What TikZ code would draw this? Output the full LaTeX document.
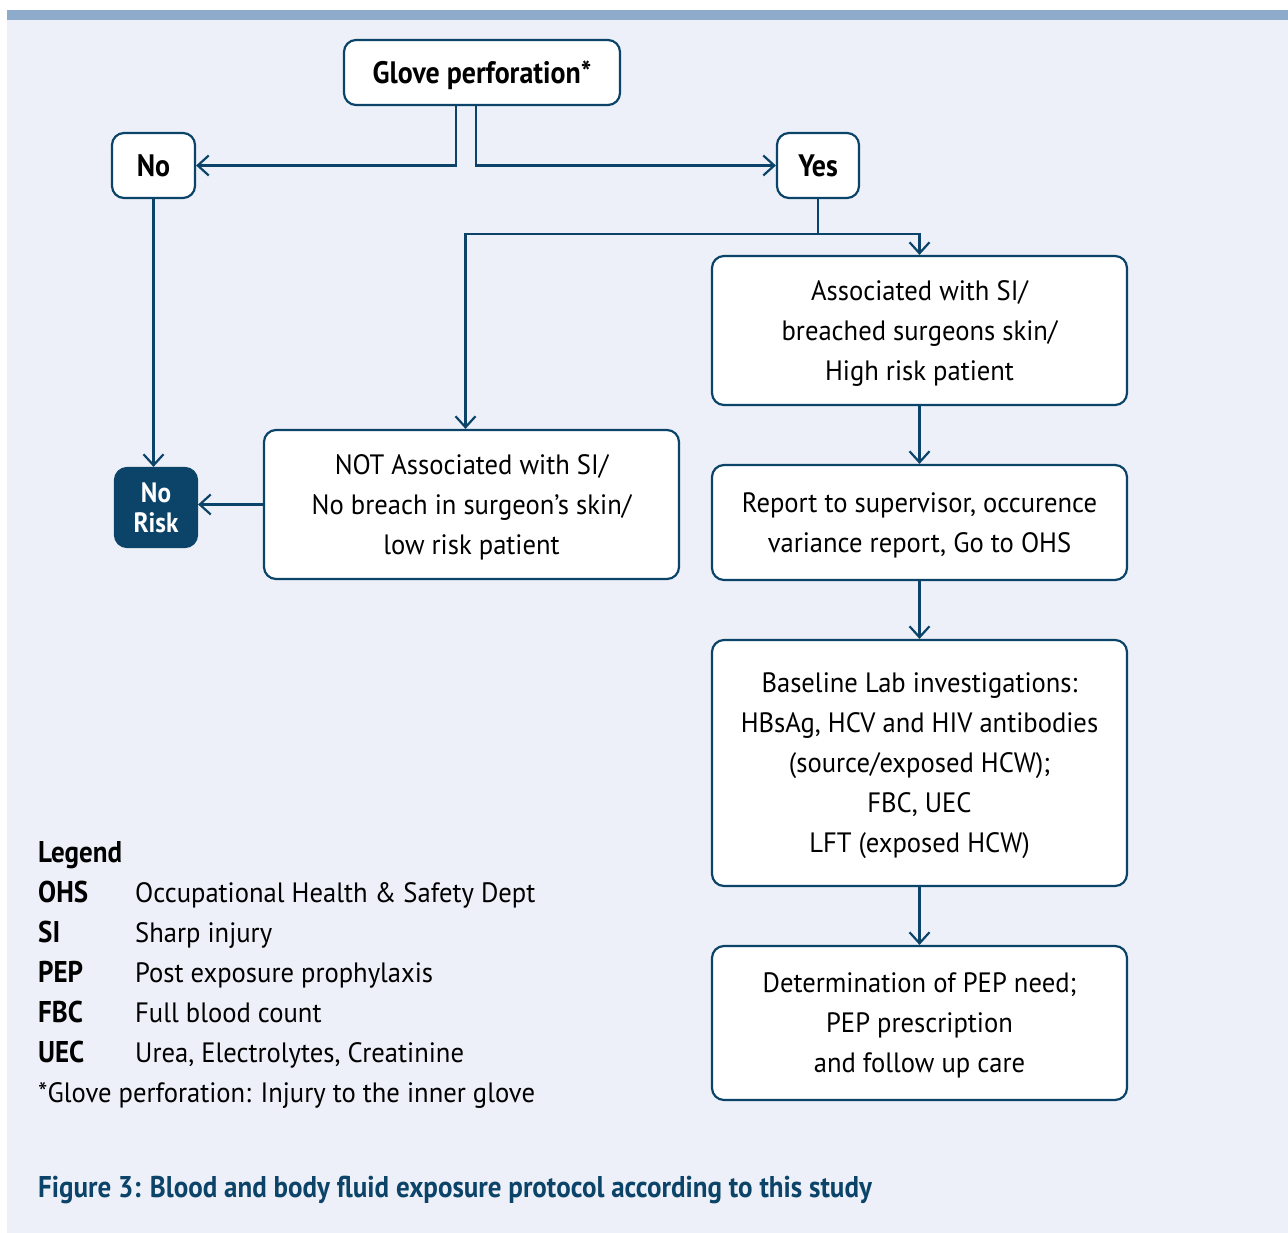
\documentclass[tikz,border=0pt]{standalone}
\usepackage{fontspec}
\setmainfont{PT Sans}[FakeStretch=0.95,BoldFeatures={FakeStretch=0.9}]
\usetikzlibrary{arrows.meta}
\definecolor{frame}{HTML}{0B4468}
\definecolor{panel}{HTML}{EDF0F8}
\definecolor{bar}{HTML}{8FABCB}
\tikzset{
  box/.style={draw=frame,fill=white,line width=2.2pt,rounded corners=12pt,align=center,inner sep=0pt,text depth=0pt,font=\fontsize{28}{40}\selectfont},
  choice/.style={box,font=\fontsize{31}{40}\selectfont\bfseries},
  darkbox/.style={box,fill=frame,text=white,font=\fontsize{28}{30}\selectfont\bfseries},
  arr/.style={draw=frame,line width=2.2pt,-{Straight Barb[length=11pt,width=20pt,line width=2.2pt]}}
}

\begin{document}
\begin{tikzpicture}[x=1pt,y=-1pt]
\useasboundingbox (0,0) rectangle (1288,1233);
\fill[white] (0,0) rectangle (1288,1233);
\fill[panel] (7,10) rectangle (1288,1233);
\fill[bar] (7,10) rectangle (1288,20);
% decision part
\node[choice,minimum width=276,minimum height=65] (glove) at (482,72.5) {Glove perforation*};
\node[choice,minimum width=83,minimum height=65] (no) at (153.5,165.5) {No};
\node[choice,minimum width=82,minimum height=65] (yes) at (818,165.5) {Yes};
\node[darkbox,minimum width=82,minimum height=79] (norisk) at (156,507.5) {No\\Risk};
\node[box,minimum width=415,minimum height=149] (assoc) at (919.5,330.5) {Associated with SI/\\breached surgeons skin/\\High risk patient};
\node[box,minimum width=415,minimum height=149] (notassoc) at (471.5,504.5) {NOT Associated with SI/\\No breach in surgeon’s skin/\\low risk patient};
\node[box,minimum width=415,minimum height=115] (report) at (919.5,522.5) {Report to supervisor, occurence\\variance report, Go to OHS};
\node[box,minimum width=415,minimum height=246] (labs) at (919.5,763) {Baseline Lab investigations:\\HBsAg, HCV and HIV antibodies\\(source/exposed HCW);\\FBC, UEC\\LFT (exposed HCW)};
\node[box,minimum width=415,minimum height=154] (pep) at (919.5,1023) {Determination of PEP need;\\PEP prescription\\and follow up care};
% connectors
\draw[arr] ([xshift=-26]glove.south) |- (no.east);
\draw[arr] ([xshift=-6]glove.south) |- (yes.west);
\draw[arr] (no.south) -- (no.south |- norisk.north);
\draw[arr] (notassoc.west) -- (notassoc.west -| norisk.east);
\coordinate (split) at (818,234);
\draw[draw=frame,line width=2.2pt] (yes.south) -- (split);
\draw[arr] (split) -| (assoc.north);
\draw[arr] (split) -| ([xshift=-6]notassoc.north);
\draw[arr] (assoc.south) -- (report.north);
\draw[arr] (report.south) -- (labs.north);
\draw[arr] (labs.south) -- (pep.north);
% legend
\node[anchor=base west,inner sep=0pt,font=\fontsize{30}{40}\selectfont\bfseries] (legend) at (38,862) {Legend};
\foreach \abbr/\desc [count=\i] in {OHS/Occupational Health \& Safety Dept,SI/Sharp injury,PEP/Post exposure prophylaxis,FBC/Full blood count,UEC/{Urea, Electrolytes, Creatinine}}{
  \node[anchor=base west,inner sep=0pt,font=\fontsize{30}{40}\selectfont\bfseries] (abbr\i) at (38,862+40*\i) {\abbr};
  \node[anchor=base west,inner sep=0pt,font=\fontsize{28}{40}\selectfont] (desc\i) at (135,862+40*\i) {\desc};
}
\node[anchor=base west,inner sep=0pt,font=\fontsize{28}{40}\selectfont] (footnote) at (38,1102) {*Glove perforation: Injury to the inner glove};
\node[anchor=base west,inner sep=0pt,text=frame,font=\fontsize{30}{40}\selectfont\bfseries] (caption) at (38,1197) {Figure 3: Blood and body fluid exposure protocol according to this study};
\end{tikzpicture}
\end{document}
